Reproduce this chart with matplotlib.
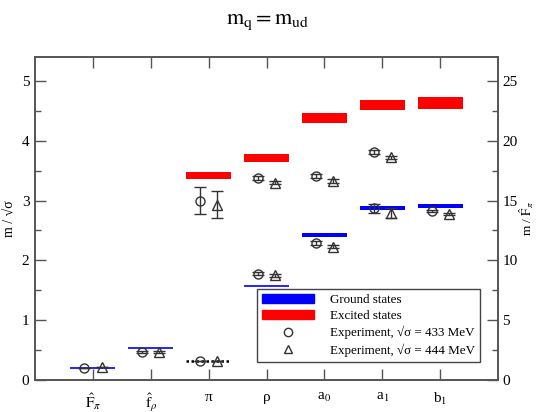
import matplotlib
matplotlib.use("Agg")
import matplotlib.pyplot as plt
from matplotlib.patches import Patch
from matplotlib.lines import Line2D

plt.rcParams['font.family'] = ['Liberation Serif', 'DejaVu Serif']
plt.rcParams['mathtext.fontset'] = 'stix'

# categories (x ticks)
labels = [r'$\hat{\mathrm{F}}_\pi$', r'$\hat{\mathrm{f}}_\rho$', 'π', 'ρ',
          r'a$_0$', r'a$_1$', r'b$_1$']
pos = [1, 2, 3, 4, 5, 6, 7]

# ground states: centre and half-thickness
ground_val = [0.195, 0.53, 0.32, 1.57, 2.42, 2.88, 2.91]
ground_err = [0.0, 0.0, 0.0, 0.0, 0.03, 0.03, 0.03]
ground_style = ['thin', 'thin', 'dotted', 'thin', 'bar', 'bar', 'bar']

# excited states (pi, rho, a0, a1, b1)
exc_pos = [3, 4, 5, 6, 7]
exc_val = [3.42, 3.71, 4.38, 4.60, 4.63]
exc_err = [0.055, 0.065, 0.08, 0.08, 0.10]

# experiment, sqrt(sigma) = 433 MeV
exp1_pos = [1, 2, 3, 4, 5, 6, 7, 3, 4, 5, 6]
exp1_val = [0.205, 0.47, 0.32, 1.78, 2.29, 2.87, 2.83, 3.00, 3.38, 3.41, 3.81]
exp1_err = [0.0, 0.02, 0.0, 0.02, 0.03, 0.08, 0.02, 0.23, 0.03, 0.03, 0.03]

# experiment, sqrt(sigma) = 444 MeV
exp2_pos = [1, 2, 3, 4, 5, 6, 7, 3, 4, 5, 6]
exp2_val = [0.21, 0.47, 0.32, 1.75, 2.23, 2.79, 2.77, 2.93, 3.30, 3.33, 3.72]
exp2_err = [0.0, 0.02, 0.0, 0.02, 0.03, 0.08, 0.02, 0.23, 0.03, 0.03, 0.03]

half_w = 0.39
dx = 0.15
spine_c = '#555555'

fig = plt.figure(figsize=(5.36, 4.12), dpi=100)
ax = fig.add_axes([0.0653, 0.0777, 0.864, 0.784])

for x, v, e, s in zip(pos, ground_val, ground_err, ground_style):
    if s == 'thin':
        ax.hlines(v, x - half_w, x + half_w, color='blue', lw=1.2, zorder=2)
    elif s == 'dotted':
        ax.hlines(v, x - half_w, x + half_w, color='black', lw=1.8,
                  linestyles=(0, (1, 1)), zorder=2)
    else:
        ax.bar(x, 2 * e, bottom=v - e, width=2 * half_w, color='blue', zorder=2)

ax.bar(exc_pos, [2 * e for e in exc_err],
       bottom=[v - e for v, e in zip(exc_val, exc_err)],
       width=2 * half_w, color='red', zorder=2)

ax.errorbar([p - dx for p in exp1_pos], exp1_val, yerr=exp1_err, fmt='o',
            mfc='none', mec='#333333', ecolor='#333333', ms=6.5, mew=1.0,
            elinewidth=1.0, capsize=4, zorder=3)
ax.errorbar([p + dx for p in exp2_pos], exp2_val, yerr=exp2_err, fmt='^',
            mfc='none', mec='#333333', ecolor='#333333', ms=6.5, mew=1.0,
            elinewidth=1.0, capsize=4, zorder=3)

ax.set_xlim(0, 8)
ax.set_ylim(0, 5.4)
ax.set_xticks(pos)
ax.set_xticklabels(labels, fontsize=11)
ax.set_yticks([0, 1, 2, 3, 4, 5])
ax.set_yticks([0.5, 1.5, 2.5, 3.5, 4.5], minor=True)
ax.tick_params(axis='both', direction='in', length=8, width=1.0, color=spine_c,
               labelsize=11, top=True, right=False, pad=4)
ax.tick_params(axis='x', pad=8)
ax.tick_params(axis='y', which='minor', direction='in', length=4, width=1.0,
               color=spine_c, right=False)
ax.set_ylabel('m / √σ', fontsize=10, labelpad=4)
for sp in ax.spines.values():
    sp.set_color(spine_c)
    sp.set_linewidth(1.2)

ax2 = ax.twinx()
ax2.set_ylim(0, 27)
ax2.set_yticks([0, 5, 10, 15, 20, 25])
ax2.set_yticks([2.5, 7.5, 12.5, 17.5, 22.5], minor=True)
ax2.tick_params(axis='y', direction='in', length=8, width=1.0, color=spine_c,
                labelsize=11, pad=3)
ax2.tick_params(axis='y', which='minor', direction='in', length=4, width=1.0,
                color=spine_c)
ax2.set_ylabel(r'm / $\hat{\mathrm{F}}_\pi$', fontsize=9.5, labelpad=0)
for sp in ax2.spines.values():
    sp.set_color(spine_c)
    sp.set_linewidth(1.2)

handles = [Patch(color='blue', label='Ground states'),
           Patch(color='red', label='Excited states'),
           Line2D([], [], marker='o', ls='none', mfc='none', mec='#333333', ms=6,
                  label='Experiment, √σ = 433 MeV'),
           Line2D([], [], marker='^', ls='none', mfc='none', mec='#333333', ms=6,
                  label='Experiment, √σ = 444 MeV')]
leg = ax.legend(handles=handles, loc='lower right', bbox_to_anchor=(0.961, 0.056),
                borderaxespad=0, fontsize=9.4, fancybox=False, framealpha=1,
                edgecolor='#444444', handlelength=4.0, handleheight=0.7,
                labelspacing=0.3, borderpad=0.4, handletextpad=1.2)
leg.get_frame().set_linewidth(1.0)

fig.text(0.5, 1 - 22 / 412, r'$\mathrm{m_q = m_{ud}}$', ha='center', va='center',
         fontsize=16)

fig.savefig('out.png', dpi=100)
